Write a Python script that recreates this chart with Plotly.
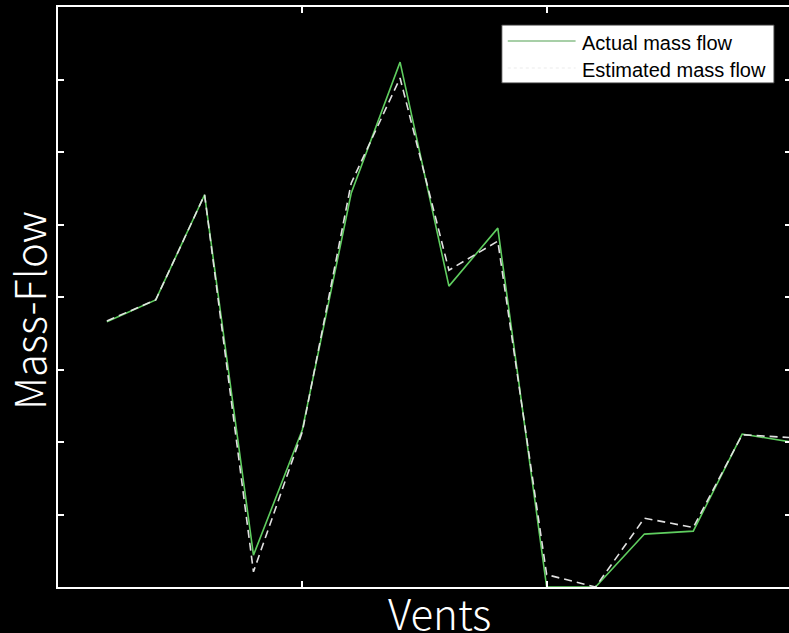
import plotly.graph_objects as go

# Data
vents = list(range(1, 16))
actual_flow = [3.66, 3.96, 5.41, 0.44, 2.17, 5.43, 7.24, 4.15, 4.95, 0.0, 0.0, 0.73, 0.77, 2.11, 2.00]
estimated_flow = [3.67, 3.96, 5.41, 0.21, 2.14, 5.57, 7.02, 4.37, 4.77, 0.17, 0.0, 0.95, 0.82, 2.10, 2.06]
x_ticks = [5, 10, 15]
y_ticks = [1, 2, 3, 4, 5, 6, 7]

W, H = 793, 633
L, R, T, B = 58, 0, 7, 46
pw, ph = W - L - R, H - T - B

def px_x(p):
    return (p - L) / pw

def px_y(p):
    return (H - B - p) / ph

fig = go.Figure()
fig.add_trace(go.Scatter(x=vents, y=actual_flow, mode="lines",
                         line=dict(color="rgb(95,205,95)", width=1.6),
                         name="Actual mass flow", showlegend=False))
fig.add_trace(go.Scatter(x=vents, y=estimated_flow, mode="lines",
                         line=dict(color="rgb(225,225,225)", width=1.6, dash="8px,5px"),
                         name="Estimated mass flow", showlegend=False))

axis_common = dict(showgrid=False, zeroline=False, showline=True, linecolor="white",
                   linewidth=1.5, mirror="ticks", ticks="inside", ticklen=6,
                   tickcolor="white", tickwidth=1.5, showticklabels=False)
fig.update_xaxes(range=[0, 15], tickvals=x_ticks, **axis_common)
fig.update_yaxes(range=[0, 8], tickvals=y_ticks, **axis_common)

# Manual legend
shapes = [
    dict(type="rect", xref="paper", yref="paper",
         x0=px_x(503), x1=px_x(776), y0=px_y(83), y1=px_y(25),
         fillcolor="white", line=dict(color="#333333", width=1)),
    dict(type="line", xref="paper", yref="paper",
         x0=px_x(509), x1=px_x(577), y0=px_y(41), y1=px_y(41),
         line=dict(color="rgb(80,160,80)", width=1.2)),
    dict(type="line", xref="paper", yref="paper",
         x0=px_x(509), x1=px_x(577), y0=px_y(68), y1=px_y(68),
         line=dict(color="rgb(235,235,235)", width=1.2, dash="dot")),
]
legend_font = dict(family="Liberation Sans, Arial, sans-serif", size=20, color="black")
title_font = dict(family="Noto Sans CJK SC, sans-serif", size=42, color="white", weight=300)
annotations = [
    dict(text="Actual mass flow", xref="paper", yref="paper", x=px_x(581), y=px_y(43),
         xanchor="left", yanchor="middle", showarrow=False, font=legend_font),
    dict(text="Estimated mass flow", xref="paper", yref="paper", x=px_x(581), y=px_y(70),
         xanchor="left", yanchor="middle", showarrow=False, font=legend_font),
    dict(text="Vents", xref="paper", yref="paper", x=px_x(441), y=px_y(611),
         xanchor="center", yanchor="middle", showarrow=False, font=title_font),
    dict(text="Mass-Flow", xref="paper", yref="paper", x=px_x(28), y=px_y(311), textangle=-90,
         xanchor="center", yanchor="middle", showarrow=False, font=title_font),
]

fig.update_layout(width=W, height=H, margin=dict(l=L, r=R, t=T, b=B),
                  paper_bgcolor="black", plot_bgcolor="black",
                  shapes=shapes, annotations=annotations, showlegend=False)

fig.write_html("out.html", config={"displayModeBar": False},
               post_script="document.body.style.margin='0';document.body.style.overflow='hidden';document.body.style.background='black';")
